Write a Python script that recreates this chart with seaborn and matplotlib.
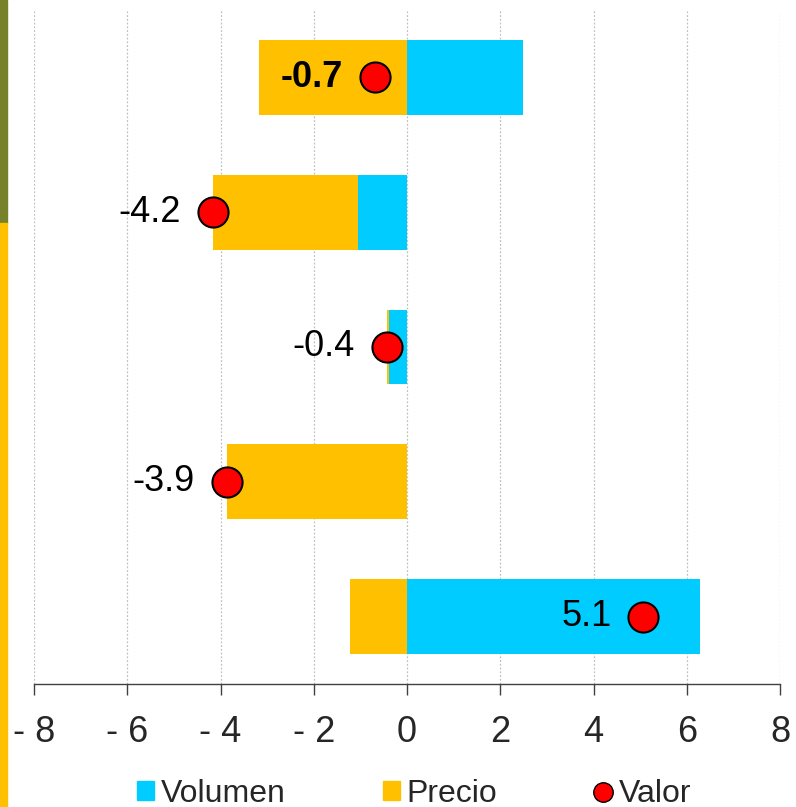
import numpy as np
import matplotlib
matplotlib.use("Agg")
import matplotlib.pyplot as plt
import matplotlib.ticker as ticker
from matplotlib.patches import Patch, Rectangle
from matplotlib.lines import Line2D
import seaborn as sns

# values
categories = ["Fila 1", "Fila 2", "Fila 3", "Fila 4", "Fila 5"]
volumen = [2.49, -1.05, -0.39, 0.0, 6.29]
precio = [-3.18, -3.11, -0.04, -3.86, -1.22]
valor = [-0.69, -4.16, -0.43, -3.86, 5.07]
tick_values = [-8, -6, -4, -2, 0, 2, 4, 6, 8]
tick_labels = ["- 8", "- 6", "- 4", "- 2", "0", "2", "4", "6", "8"]

c_vol = "#00CCFF"
c_pre = "#FFC000"

sns.set_theme(style="white")
plt.rcParams["font.family"] = ["Liberation Sans", "DejaVu Sans"]

fig = plt.figure(figsize=(7.96, 8.07), dpi=100)
ax = fig.add_axes([34 / 796, 1 - 684 / 807, 746 / 796, 674 / 807])

# precio sits beyond the negative part of volumen
vol = np.array(volumen)
pre = np.array(precio)
pre_extent = pre + np.where((vol < 0) & (pre < 0), vol, 0)

sns.barplot(x=pre_extent, y=categories, orient="h", color=c_pre, saturation=1,
            width=0.556, linewidth=0, ax=ax, zorder=2)
sns.barplot(x=vol, y=categories, orient="h", color=c_vol, saturation=1,
            width=0.556, linewidth=0, ax=ax, zorder=3)

pos = np.arange(len(categories))
ax.scatter(valor, pos, s=470, color="#FF0000", edgecolor="black", linewidth=1.5, zorder=5)

for i, v in enumerate(valor):
    ax.annotate(f"{v:.1f}", (v, pos[i]), xytext=(-23, 0), textcoords="offset points",
                ha="right", va="center", fontsize=26, color="black",
                fontweight="bold" if i == 0 else "normal", zorder=6)

ax.set_xlim(-8, 8)
ax.set_ylim(4.5, -0.5)
ax.set_xlabel("")
ax.set_ylabel("")
ax.set_yticks([])
ax.xaxis.set_major_locator(ticker.FixedLocator(tick_values))
ax.set_xticklabels(tick_labels)
ax.tick_params(axis="x", bottom=True, direction="out", length=8, width=1.0,
               color="#404040", labelsize=26, pad=14)
ax.grid(axis="x", linestyle=(0, (1.5, 1.5)), color="#C0C0C0", linewidth=0.9, zorder=0)
ax.set_axisbelow(True)
for s in ["top", "right", "left"]:
    ax.spines[s].set_visible(False)
ax.spines["bottom"].set_color("#404040")
ax.spines["bottom"].set_linewidth(1.0)

# decorative strip at the left edge
fig.patches.append(Rectangle((0, 1 - 223 / 807), 7 / 796, 223 / 807, transform=fig.transFigure,
                             color="#77802A", zorder=0))
fig.patches.append(Rectangle((0, 0), 7 / 796, 1 - 223 / 807, transform=fig.transFigure,
                             color=c_pre, zorder=0))

handles = [Patch(color=c_vol, label="Volumen"),
           Patch(color=c_pre, label="Precio"),
           Line2D([], [], marker="o", linestyle="none", markersize=14,
                  markerfacecolor="#FF0000", markeredgecolor="black", label="Valor")]
fig.legend(handles=handles, loc="center", bbox_to_anchor=(414 / 796, 1 - 794 / 807),
           ncol=3, frameon=False, fontsize=23, handlelength=0.53, handleheight=0.53,
           handletextpad=0.22, columnspacing=3.05, borderaxespad=0, borderpad=0)

fig.savefig("out.png", dpi=100)
